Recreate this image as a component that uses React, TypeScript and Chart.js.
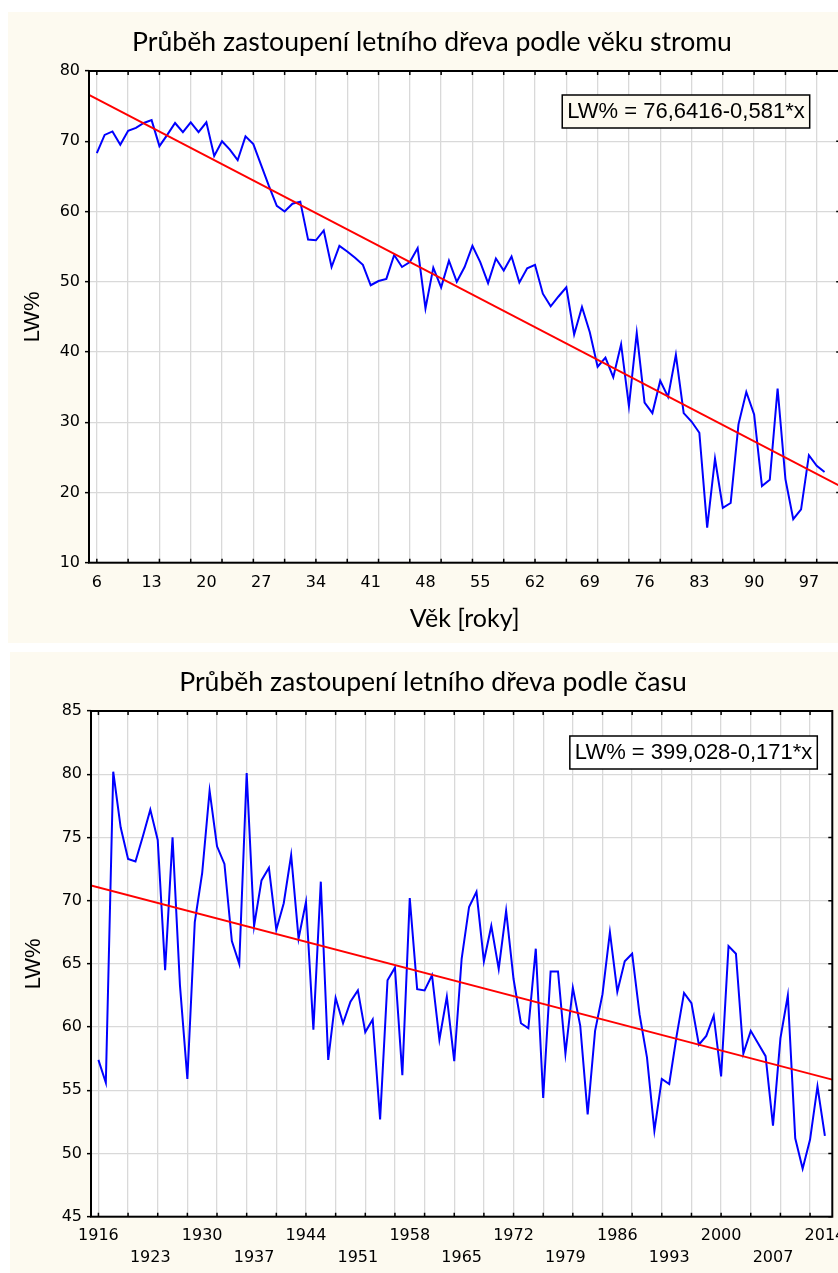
import React, { useEffect, useRef } from 'react';
import { Chart, registerables } from 'chart.js';

Chart.register(...registerables);

// ---------- data ----------
const ageStart = 6;
const lwByAge = [
  68.3, 70.9, 71.4, 69.5, 71.5, 71.9, 72.6, 73.0, 69.3, 70.9,
  72.6, 71.3, 72.7, 71.3, 72.7, 67.9, 70.0, 68.8, 67.3, 70.7,
  69.6, 66.6, 63.6, 60.8, 60.0, 61.1, 61.4, 56.0, 55.9, 57.3,
  52.1, 55.1, 54.3, 53.4, 52.4, 49.5, 50.1, 50.4, 53.8, 52.1,
  52.8, 54.8, 46.2, 52.0, 49.2, 53.0, 50.0, 52.1, 55.1, 52.8,
  49.8, 53.3, 51.6, 53.6, 49.9, 51.9, 52.4, 48.3, 46.5, 47.9,
  49.2, 42.5, 46.4, 42.8, 37.9, 39.2, 36.4, 41.1, 32.3, 42.7,
  32.8, 31.3, 35.9, 33.6, 39.6, 31.3, 30.1, 28.5, 15.0, 24.8,
  17.8, 18.5, 29.7, 34.3, 31.1, 20.9, 21.8, 34.8, 21.9, 16.2,
  17.6, 25.3, 23.8, 22.9,
];
const ages = lwByAge.map((_, i) => ageStart + i);
const trendAgeX = [5, 101];
const trendAgeY = [76.6, 20.9];
const ageGridTicks = [6, 10, 14, 18, 22, 26, 30, 34, 38, 42, 46, 50, 54, 58, 62, 66, 70, 74, 78, 82, 86, 90, 94, 98];
const ageLabelTicks = [6, 13, 20, 27, 34, 41, 48, 55, 62, 69, 76, 83, 90, 97];

const yearStart = 1916;
const lwByYear = [
  57.4, 55.6, 80.2, 75.8, 73.3, 73.1, 75.1, 77.2, 74.8, 64.5,
  75.0, 63.3, 55.9, 68.3, 72.2, 78.7, 74.3, 72.9, 66.8, 65.0,
  80.1, 68.0, 71.6, 72.6, 67.7, 69.8, 73.6, 67.0, 69.9, 59.8,
  71.5, 57.4, 62.3, 60.3, 62.0, 62.9, 59.6, 60.6, 52.7, 63.7,
  64.7, 56.2, 70.2, 63.0, 62.9, 64.1, 59.0, 62.4, 57.3, 65.4,
  69.5, 70.7, 65.2, 68.0, 64.6, 69.2, 63.8, 60.3, 59.9, 66.2,
  54.4, 64.4, 64.4, 57.9, 63.1, 60.1, 53.1, 59.7, 62.6, 67.5,
  62.8, 65.2, 65.8, 61.0, 57.6, 51.8, 55.9, 55.5, 59.3, 62.7,
  61.9, 58.6, 59.3, 60.9, 56.1, 66.4, 65.8, 57.9, 59.7, 58.7,
  57.7, 52.2, 59.1, 62.5, 51.2, 48.8, 51.1, 55.3, 51.4,
];
const years = lwByYear.map((_, i) => yearStart + i);
const trendYearX = [1915, 2015];
const trendYearY = [71.2, 55.85];
const yearGridTicks = [1916, 1920, 1924, 1928, 1932, 1936, 1940, 1944, 1948, 1952, 1956, 1960, 1964, 1968, 1972, 1976, 1980, 1984, 1988, 1992, 1996, 2000, 2004, 2008, 2012];
const yearLabelTicks = [1916, 1923, 1930, 1937, 1944, 1951, 1958, 1965, 1972, 1979, 1986, 1993, 2000, 2007, 2014];

// ---------- styles ----------
const CREAM = '#fdfaf0';
const GRID = '#d9d9d9';
const TICK_FONT = 'DejaVu Sans';
const TITLE_FONT = 'Lato';
const SANS = 'Liberation Sans';

const framePlugin = {
  id: 'frameBox',
  beforeDraw(chart: any, _args: any, opts: any) {
    const { ctx, chartArea: a } = chart;
    ctx.save();
    ctx.fillStyle = '#ffffff';
    ctx.fillRect(a.left, a.top, a.right - a.left, a.bottom - a.top);
    // chart title, centred on the whole (partly hidden) panel
    ctx.fillStyle = '#000';
    ctx.font = `26.6px "${TITLE_FONT}"`;
    ctx.textAlign = 'center';
    ctx.textBaseline = 'middle';
    ctx.fillText(opts.title, chart.width / 2, 30.8);
    ctx.restore();
  },
  afterDatasetsDraw(chart: any, _args: any, opts: any) {
    const { ctx, chartArea: a } = chart;
    const xs = chart.scales.x;
    const ys = chart.scales.y;
    const gridSet = new Set(opts.gridX);
    ctx.save();
    ctx.strokeStyle = '#000';
    ctx.lineWidth = 1.5;
    ctx.beginPath();
    xs.ticks.forEach((t: any) => {
      if (!gridSet.has(t.value)) return;
      const px = xs.getPixelForValue(t.value);
      ctx.moveTo(px, a.top);
      ctx.lineTo(px, a.top + 4);
      ctx.moveTo(px, a.bottom);
      ctx.lineTo(px, a.bottom - 4);
    });
    ys.ticks.forEach((t: any) => {
      const py = ys.getPixelForValue(t.value);
      ctx.moveTo(a.right, py);
      ctx.lineTo(a.right - 4, py);
    });
    ctx.stroke();
    ctx.lineWidth = 2;
    ctx.strokeRect(a.left, a.top, a.right - a.left, a.bottom - a.top);
    ctx.restore();
  },
  afterDraw(chart: any, _args: any, opts: any) {
    const { ctx, chartArea: a } = chart;
    ctx.save();
    ctx.font = `22px "${SANS}"`;
    const tw = ctx.measureText(opts.text).width;
    const w = tw + 10;
    const h = 33;
    const x = a.right - opts.right - w;
    const y = a.top + opts.top;
    ctx.fillStyle = opts.fill;
    ctx.fillRect(x, y, w, h);
    ctx.strokeStyle = '#000';
    ctx.lineWidth = 1.5;
    ctx.strokeRect(x, y, w, h);
    ctx.fillStyle = '#000';
    ctx.textAlign = 'left';
    ctx.textBaseline = 'middle';
    ctx.fillText(opts.text, x + 5, y + h / 2 + 0.5);
    ctx.restore();
  },
};

type Cfg = {
  xs: number[]; ys: number[]; trendX: number[]; trendY: number[];
  xMin: number; xMax: number; yMin: number; yMax: number; yStep: number;
  gridX: number[]; labelX: number[]; twoRows: boolean;
  title: string; xTitle?: string; eq: string; eqFill: string; eqRight: number; eqTop: number;
  xHeight: number; yWidth: number; padRight: number; tickLineHeight: number; tickPad: number;
  yTitlePad: number;
};

function makeConfig(c: Cfg): any {
  const gridSet = new Set(c.gridX);
  const labelIdx = new Map(c.labelX.map((v, i) => [v, i]));
  const allTicks = Array.from(new Set([...c.gridX, ...c.labelX])).sort((a, b) => a - b);
  return {
    type: 'line',
    data: {
      datasets: [
        {
          data: c.trendX.map((x, i) => ({ x, y: c.trendY[i] })),
          borderColor: '#ff0000', borderWidth: 1.8, pointRadius: 0, tension: 0, order: 0,
        },
        {
          data: c.xs.map((x, i) => ({ x, y: c.ys[i] })),
          borderColor: '#0000ff', borderWidth: 2, pointRadius: 0, tension: 0, order: 1,
        },
      ],
    },
    options: {
      animation: false,
      responsive: false,
      events: [],
      layout: { padding: { left: 0, top: 59, bottom: 0, right: c.padRight } },
      plugins: {
        legend: { display: false },
        tooltip: { enabled: false },
        title: { display: false },
        frameBox: { gridX: c.gridX, text: c.eq, fill: c.eqFill, right: c.eqRight, top: c.eqTop, title: c.title },
      },
      scales: {
        x: {
          type: 'linear', min: c.xMin, max: c.xMax,
          afterBuildTicks: (s: any) => { s.ticks = allTicks.map((v) => ({ value: v })); },
          afterFit: (s: any) => { s.height = c.xHeight; },
          ticks: {
            autoSkip: false, maxRotation: 0, minRotation: 0, color: '#000', padding: c.tickPad,
            font: { family: TICK_FONT, size: 16, lineHeight: c.tickLineHeight },
            callback: (v: any) => {
              if (!labelIdx.has(v)) return '';
              const i = labelIdx.get(v)!;
              if (c.twoRows && i % 2 === 1) return ['', String(v)];
              return String(v);
            },
          },
          grid: {
            color: (ctx: any) => (ctx.tick && gridSet.has(ctx.tick.value) ? GRID : 'rgba(0,0,0,0)'),
            lineWidth: 1.3, drawTicks: false,
          },
          border: { display: false },
          title: c.xTitle
            ? {
                display: true, text: c.xTitle, color: '#000',
                font: { family: TITLE_FONT, size: 25, lineHeight: 1.2 },
                padding: { top: 0, bottom: 9 },
              }
            : { display: false },
        },
        y: {
          min: c.yMin, max: c.yMax,
          afterFit: (s: any) => { s.width = c.yWidth; },
          ticks: { stepSize: c.yStep, color: '#000', padding: 5, font: { family: TICK_FONT, size: 16 } },
          grid: { color: GRID, lineWidth: 1.3, drawTicks: true, tickLength: 4, tickColor: '#000', tickWidth: 1.5 },
          border: { display: false },
          title: {
            display: true, text: 'LW%', color: '#000',
            font: { family: SANS, size: 22, lineHeight: 1.2 },
            padding: { top: c.yTitlePad, bottom: 0 },
          },
        },
      },
    },
    plugins: [framePlugin],
  };
}

function Panel({ left, top, width, height, canvasWidth, cfg }: {
  left: number; top: number; width: number; height: number; canvasWidth: number; cfg: Cfg;
}) {
  const ref = useRef<HTMLCanvasElement>(null);
  useEffect(() => {
    const chart = new Chart(ref.current as HTMLCanvasElement, makeConfig(cfg));
    return () => chart.destroy();
  }, []);
  return (
    <div style={{ position: 'absolute', left, top, width, height, overflow: 'hidden', background: CREAM }}>
      <canvas ref={ref} width={canvasWidth} height={height} style={{ display: 'block', width: canvasWidth, height }} />
    </div>
  );
}

export default function App() {
  const topCfg: Cfg = {
    xs: ages, ys: lwByAge, trendX: trendAgeX, trendY: trendAgeY,
    xMin: 5, xMax: 101, yMin: 10, yMax: 80, yStep: 10,
    gridX: ageGridTicks, labelX: ageLabelTicks, twoRows: false,
    title: 'Průběh zastoupení letního dřeva podle věku stromu', xTitle: 'Věk [roky]',
    eq: 'LW% = 76,6416-0,581*x', eqFill: CREAM, eqRight: 30.5, eqTop: 24,
    xHeight: 80.3, yWidth: 81, padRight: 15.8, tickLineHeight: 1.2, tickPad: 10.2, yTitlePad: 11.8,
  };
  const bottomCfg: Cfg = {
    xs: years, ys: lwByYear, trendX: trendYearX, trendY: trendYearY,
    xMin: 1915, xMax: 2015, yMin: 45, yMax: 85, yStep: 5,
    gridX: yearGridTicks, labelX: yearLabelTicks, twoRows: true,
    title: 'Průběh zastoupení letního dřeva podle času',
    eq: 'LW% = 399,028-0,171*x', eqFill: '#ffffff', eqRight: 15, eqTop: 25,
    xHeight: 56.3, yWidth: 81, padRight: 23.7, tickLineHeight: 1.4, tickPad: 7.9, yTitlePad: 10.8,
  };
  return (
    <>
      <Panel left={8} top={12} width={830} height={631} canvasWidth={848} cfg={topCfg} />
      <Panel left={10} top={652} width={828} height={621} canvasWidth={846} cfg={bottomCfg} />
    </>
  );
}
